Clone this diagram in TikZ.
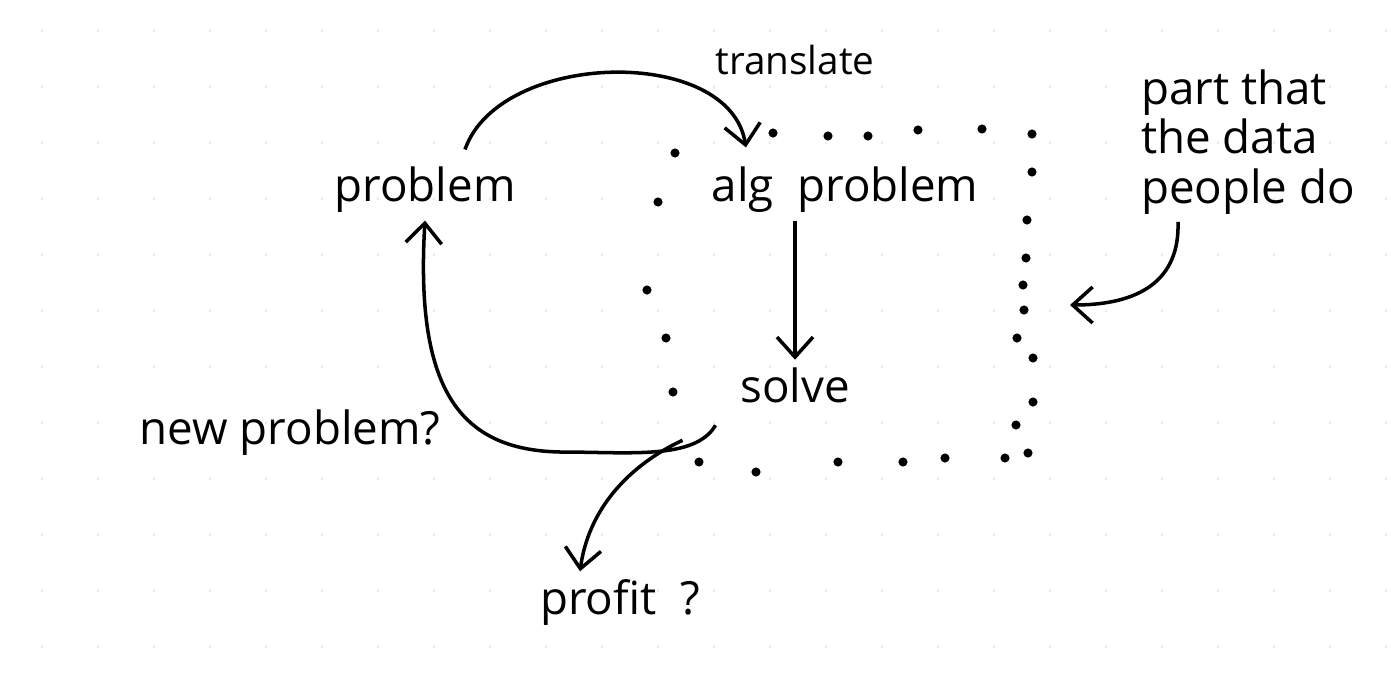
\documentclass[tikz,border=0pt]{standalone}
\usepackage{fontspec}
\setmainfont{Open Sans}
\usepackage{tikz}
\usetikzlibrary{arrows.meta, positioning, calc}
\definecolor{griddot}{RGB}{236,236,236}

\tikzset{
  word/.style={font=\fontsize{13}{14}\selectfont, inner sep=2pt},
  flow/.style={line width=1pt, -{Straight Barb[length=2mm, width=3.6mm, line width=1pt]}}
}

\begin{document}
\begin{tikzpicture}
    \useasboundingbox (0,0) rectangle (13.96,6.8);

    % faint dot grid of the paper
    \foreach \i in {0,...,24} {
        \foreach \j in {0,...,11} {
            \fill[griddot] (0.42+\i*0.56, 6.49-\j*0.56) circle (0.45pt);
        }
    }

    % words
    \node[word] (prob) at (4.25, 4.90) {problem};
    \node[word] (alg) at (8.45, 4.90) {alg\ \ problem};
    \node[word] (solve) at (7.95, 2.95) {solve};
    \node[word] (newp) at (2.90, 2.47) {new problem?};
    \node[word] (profit) at (6.20, 0.78) {profit\ \ ?};
    \node[font=\fontsize{11}{12}\selectfont] (transl) at (7.95, 6.20) {translate};
    \node[word, align=left] (note) at (12.48, 5.38) {part that\\the data\\people do};

    % dotted box round the data part
    \foreach \x/\y in {7.73/5.47, 8.28/5.44, 8.68/5.44, 9.18/5.50, 9.82/5.51, 10.32/5.46,
                       6.75/5.27, 6.58/4.78, 6.47/3.90, 6.66/3.42, 6.73/2.88,
                       10.32/5.08, 10.27/4.60, 10.26/4.22, 10.23/3.95, 10.24/3.70, 10.17/3.42,
                       10.33/3.22, 10.33/2.78, 10.16/2.55, 10.28/2.27,
                       6.99/2.18, 7.56/2.08, 8.38/2.18, 9.03/2.18, 9.45/2.22, 10.05/2.22} {
        \fill (\x, \y) circle (1.3pt);
    }
    \coordinate (boxedge) at (10.70, 3.75);

    % arrows
    \draw[flow] ([xshift=0.4cm, yshift=0.1cm]prob.north) .. controls (5.0,6.3) and (7.3,6.35) .. ([xshift=0.42cm, yshift=0.12cm]alg.north west);
    \draw[flow] (solve.north |- alg.south) -- (solve.north);
    \draw[flow] ([xshift=-0.17cm, yshift=-0.15cm]solve.south west) .. controls (6.95,2.2) and (6.3,2.28) .. (5.6,2.28)
                .. controls (4.6,2.3) and (4.15,2.9) .. (prob.south);
    \draw[flow] ([xshift=-0.5cm, yshift=-0.3cm]solve.south west) .. controls (6.4,2.2) and (5.9,1.8) .. ([xshift=-0.4cm]profit.north);
    \draw[flow] ([xshift=-0.7cm]note.south) .. controls (11.8,4.0) and (11.4,3.75) .. (boxedge);
\end{tikzpicture}
\end{document}
